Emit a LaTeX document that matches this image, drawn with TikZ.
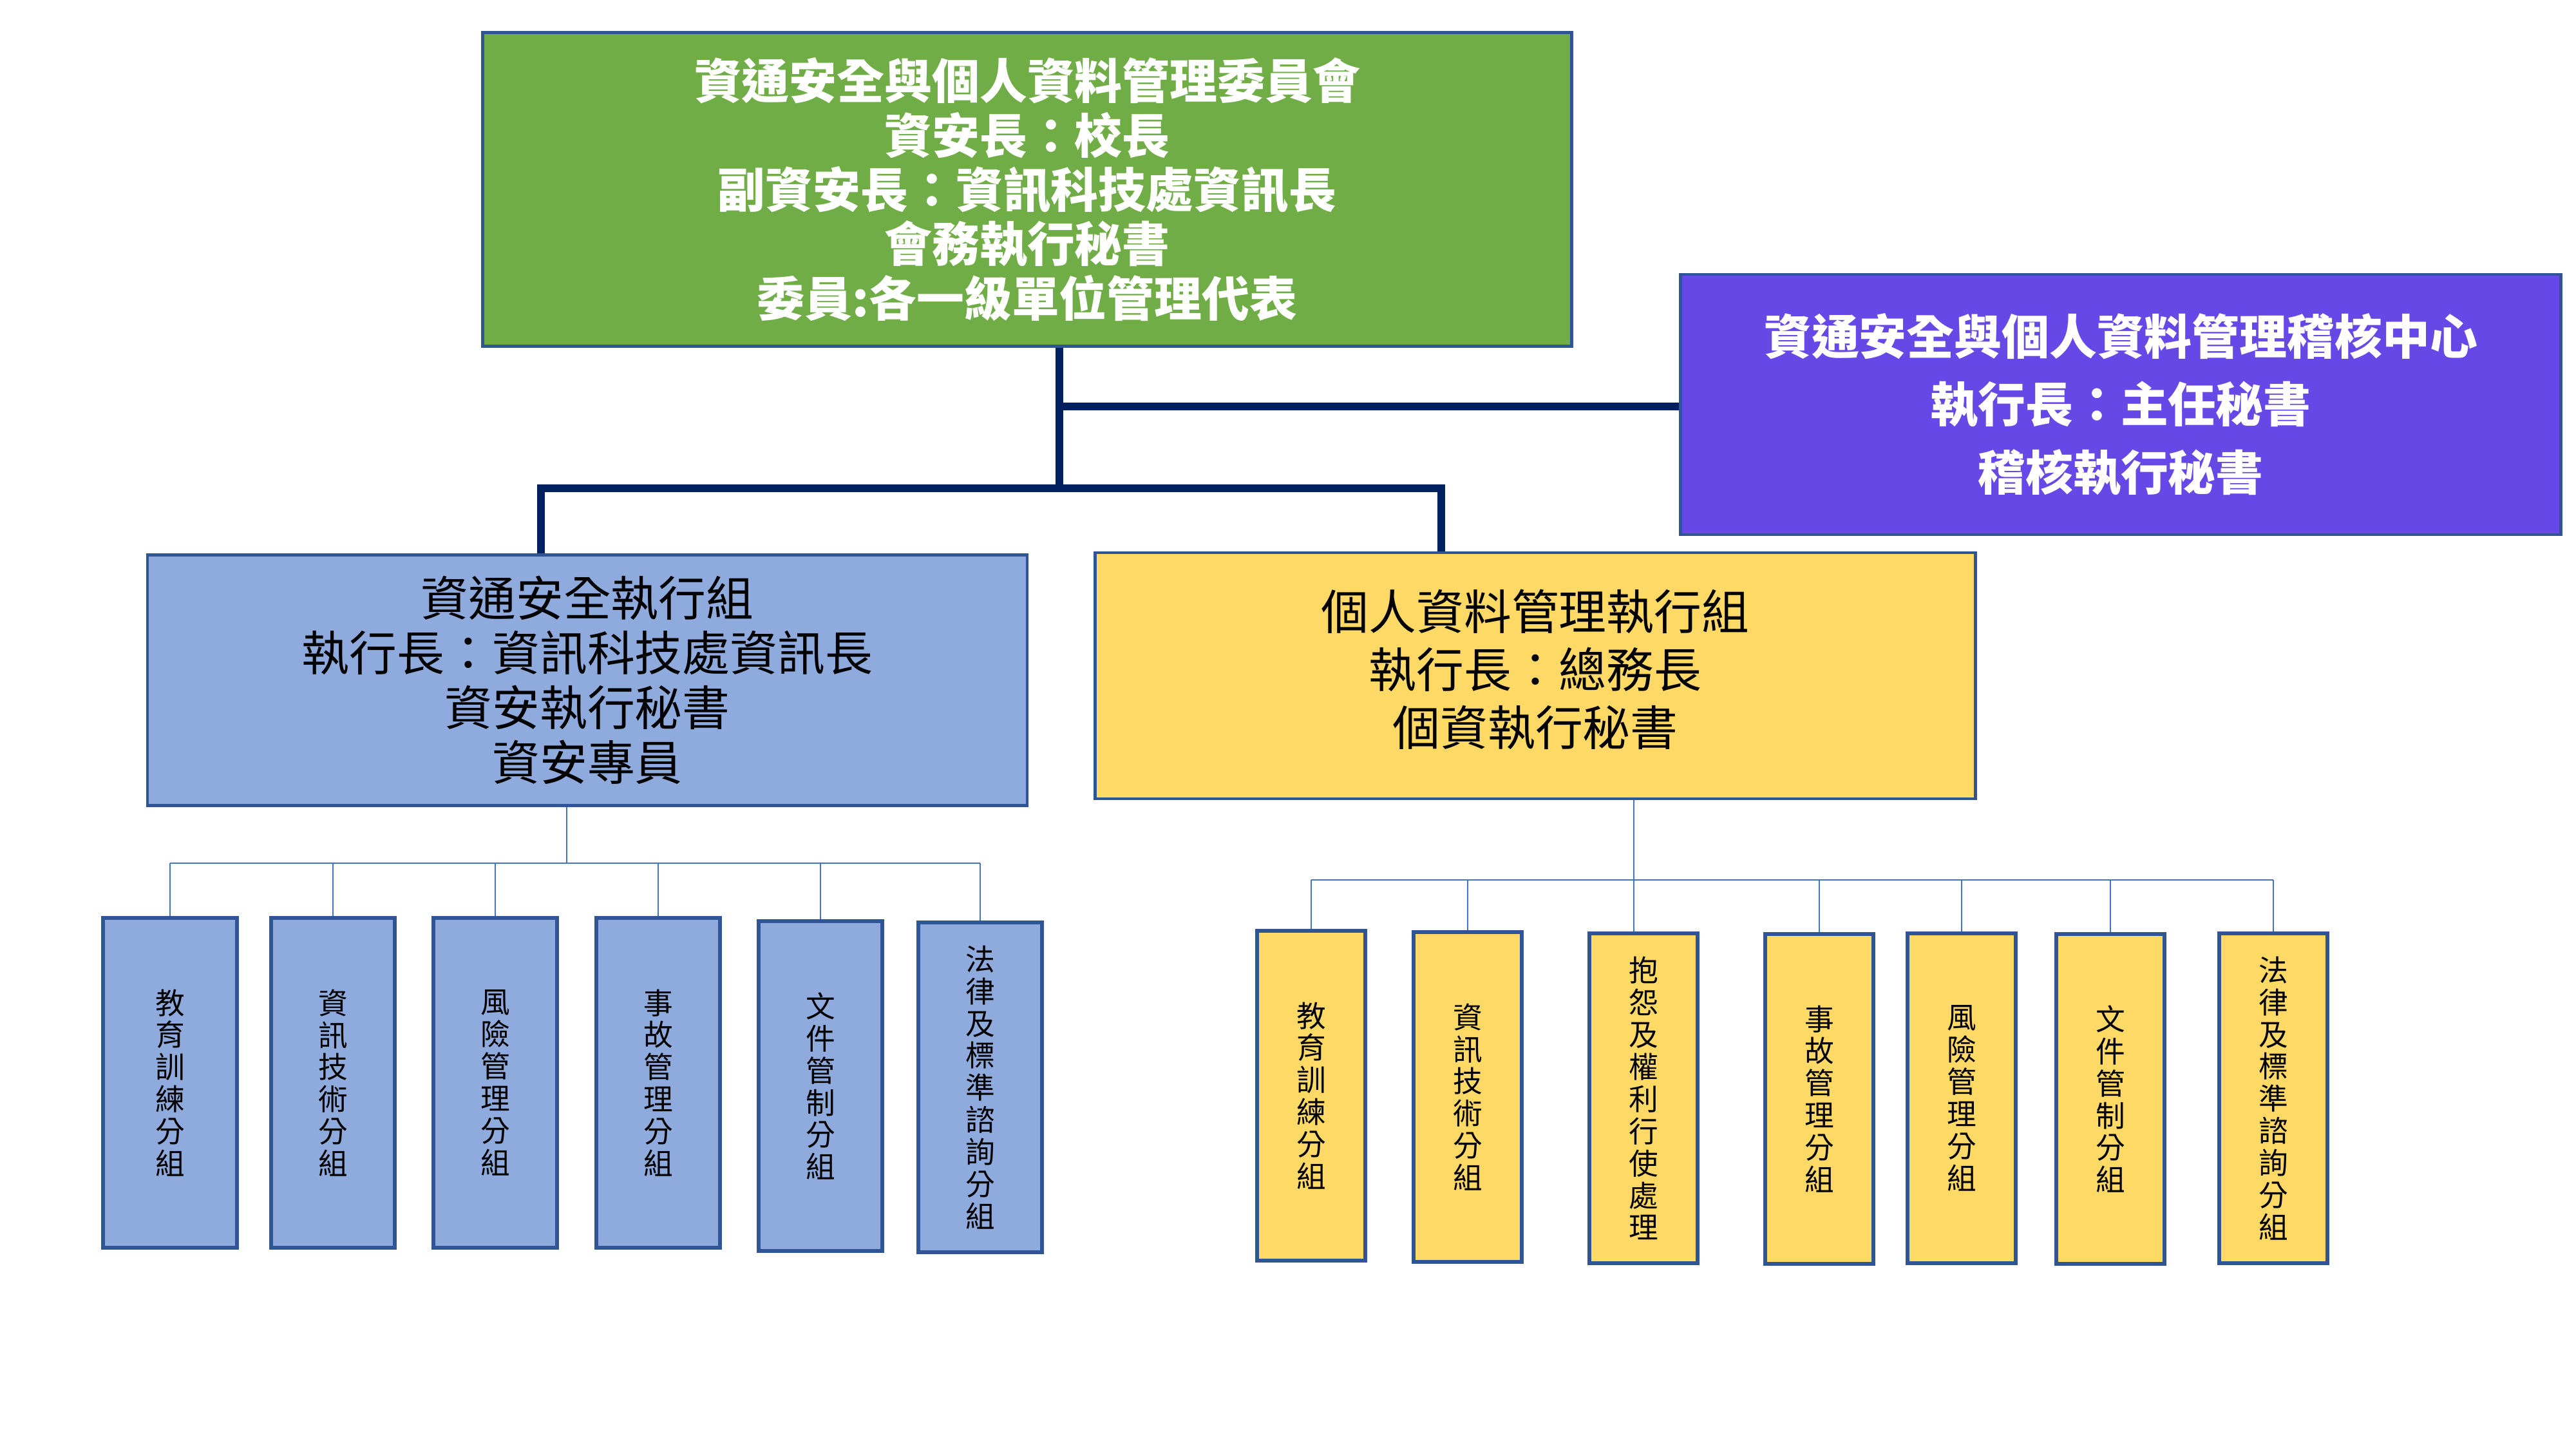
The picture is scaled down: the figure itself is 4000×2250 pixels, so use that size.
\documentclass[tikz,border=0pt]{standalone}
\usepackage{fontspec}
\setmainfont{Noto Sans CJK TC}
\usepackage{xcolor}
\definecolor{boardgreen}{HTML}{70AD47}
\definecolor{auditpurple}{HTML}{6548E6}
\definecolor{secblue}{HTML}{8FAADC}
\definecolor{pdmyellow}{HTML}{FFD966}
\definecolor{boxedge}{HTML}{2F5597}
\definecolor{trunk}{HTML}{002060}
\definecolor{twig}{HTML}{4472C4}

\begin{document}
\begin{tikzpicture}[x=0.01cm, y=-0.01cm,
  headbox/.style={draw=boxedge, line width=1.3pt, align=center, inner sep=0pt},
  subbox/.style={draw=boxedge, line width=1.6pt, align=center, inner sep=0pt, minimum height=5.12cm, font=\fontsize{13}{14.2}\selectfont},
  trunkline/.style={draw=trunk, line width=3.2pt},
  twigline/.style={draw=twig, line width=0.8pt}]
  \useasboundingbox (0,0) rectangle (4000,2250);
  % top level
  \node[headbox, fill=boardgreen, text=white, minimum width=16.90cm, minimum height=4.87cm, font=\fontsize{21}{24}\selectfont\bfseries] (board) at (1595,294) {資通安全與個人資料管理委員會\\資安長：校長\\副資安長：資訊科技處資訊長\\會務執行秘書\\委員:各一級單位管理代表};
  \node[headbox, fill=auditpurple, text=white, minimum width=13.66cm, minimum height=4.04cm, font=\fontsize{21}{30}\selectfont\bfseries] (audit) at (3293,628) {資通安全與個人資料管理稽核中心\\執行長：主任秘書\\稽核執行秘書};
  % two groups
  \node[headbox, fill=secblue, minimum width=13.65cm, minimum height=3.89cm, font=\fontsize{21}{24.2}\selectfont] (sec) at (912,1056) {資通安全執行組\\執行長：資訊科技處資訊長\\資安執行秘書\\資安專員};
  \node[headbox, fill=pdmyellow, minimum width=13.66cm, minimum height=3.82cm, font=\fontsize{21}{25.6}\selectfont] (pdm) at (2384,1049) {個人資料管理執行組\\執行長：總務長\\個資執行秘書\vspace{0.2cm}};
  % security subgroups
  \node[subbox, fill=secblue, minimum width=2.08cm] (s1) at (264,1681) {教\\育\\訓\\練\\分\\組};
  \node[subbox, fill=secblue, minimum width=1.92cm] (s2) at (517,1681) {資\\訊\\技\\術\\分\\組};
  \node[subbox, fill=secblue, minimum width=1.92cm] (s3) at (769,1681) {風\\險\\管\\理\\分\\組};
  \node[subbox, fill=secblue, minimum width=1.92cm] (s4) at (1022,1681) {事\\故\\管\\理\\分\\組};
  \node[subbox, fill=secblue, minimum width=1.92cm] (s5) at (1274,1686) {文\\件\\管\\制\\分\\組};
  \node[subbox, fill=secblue, minimum width=1.92cm] (s6) at (1522,1688) {法\\律\\及\\標\\準\\諮\\詢\\分\\組};
  % personal data subgroups
  \node[subbox, fill=pdmyellow, minimum width=1.68cm] (p1) at (2036,1701) {教\\育\\訓\\練\\分\\組};
  \node[subbox, fill=pdmyellow, minimum width=1.68cm] (p2) at (2279,1703) {資\\訊\\技\\術\\分\\組};
  \node[subbox, fill=pdmyellow, minimum width=1.68cm] (p3) at (2552,1705) {抱\\怨\\及\\權\\利\\行\\使\\處\\理};
  \node[subbox, fill=pdmyellow, minimum width=1.68cm] (p4) at (2825,1706) {事\\故\\管\\理\\分\\組};
  \node[subbox, fill=pdmyellow, minimum width=1.68cm] (p5) at (3046,1705) {風\\險\\管\\理\\分\\組};
  \node[subbox, fill=pdmyellow, minimum width=1.68cm] (p6) at (3277,1706) {文\\件\\管\\制\\分\\組};
  \node[subbox, fill=pdmyellow, minimum width=1.68cm] (p7) at (3530,1705) {法\\律\\及\\標\\準\\諮\\詢\\分\\組};
  % thick lines
  \coordinate (hub) at (1645,631);
  \coordinate (fork) at (1645,758);
  \coordinate (forkL) at (840,758);
  \coordinate (forkR) at (2238,758);
  \draw[trunkline] (board.south -| hub) -- (fork);
  \draw[trunkline] (hub) -- (audit.west |- hub);
  \draw[trunkline] (sec.north -| forkL) -- (forkL) -- (forkR) -- (pdm.north -| forkR);
  % thin lines
  \coordinate (secbar) at (880,1340);
  \draw[twigline] (sec.south -| secbar) -- (secbar);
  \draw[twigline] (s1.north |- secbar) -- (s6.north |- secbar);
  \draw[twigline] (s1.north |- secbar) -- (s1.north);
  \draw[twigline] (s2.north |- secbar) -- (s2.north);
  \draw[twigline] (s3.north |- secbar) -- (s3.north);
  \draw[twigline] (s4.north |- secbar) -- (s4.north);
  \draw[twigline] (s5.north |- secbar) -- (s5.north);
  \draw[twigline] (s6.north |- secbar) -- (s6.north);
  \coordinate (pdmbar) at (2537,1366);
  \draw[twigline] (pdm.south -| pdmbar) -- (pdmbar);
  \draw[twigline] (p1.north |- pdmbar) -- (p7.north |- pdmbar);
  \draw[twigline] (p1.north |- pdmbar) -- (p1.north);
  \draw[twigline] (p2.north |- pdmbar) -- (p2.north);
  \draw[twigline] (pdmbar) -- (p3.north -| pdmbar);
  \draw[twigline] (p4.north |- pdmbar) -- (p4.north);
  \draw[twigline] (p5.north |- pdmbar) -- (p5.north);
  \draw[twigline] (p6.north |- pdmbar) -- (p6.north);
  \draw[twigline] (p7.north |- pdmbar) -- (p7.north);
\end{tikzpicture}
\end{document}
